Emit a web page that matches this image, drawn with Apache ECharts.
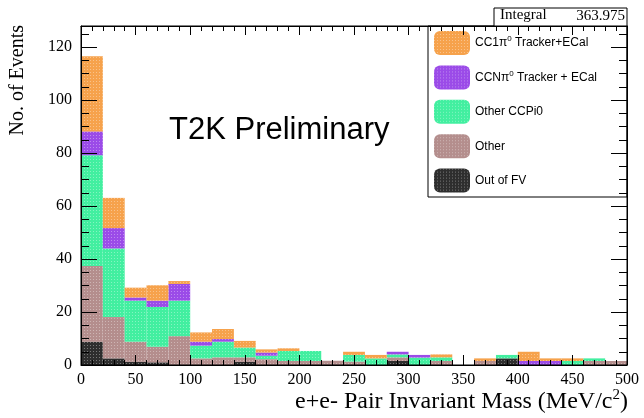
<!DOCTYPE html>
<html>
<head>
<meta charset="utf-8">
<script src="https://cdn.jsdelivr.net/npm/echarts@6/dist/echarts.min.js"></script>
<style>
  html, body { margin: 0; padding: 0; background: #fff; }
  #chart { width: 644px; height: 418px; }
</style>
</head>
<body>
<div id="chart"></div>
<script>
// 25 bins of 20 MeV/c^2, 0..500
const binEdges = [0, 20, 40, 60, 80, 100, 120, 140, 160, 180, 200, 220, 240, 260, 280, 300, 320, 340, 360, 380, 400, 420, 440, 460, 480];

// stacked from bottom to top
const outOfFV   = [8.8, 2.5, 1.2, 1.0, 0, 0, 0, 1.2, 0, 0, 0, 0, 0, 0, 1.5, 0, 0, 0, 0, 2.5, 0, 0, 0, 0, 0];
const other     = [28.6, 15.6, 7.6, 5.9, 10.9, 2.5, 2.9, 1.7, 2.2, 1.5, 1.5, 1.6, 1.3, 0, 1.4, 0, 1.5, 0, 1.5, 0, 0, 0, 0, 1.5, 1.5];
const otherCCPi0 = [41.8, 25.9, 15.5, 15.0, 13.4, 4.8, 5.9, 3.7, 1.3, 3.8, 3.8, 0, 2.5, 2.5, 1.1, 2.8, 1.4, 0, 0, 1.3, 0, 0, 1.5, 1.0, 0];
const ccNPi0    = [9.0, 7.7, 1.2, 2.4, 6.3, 1.5, 1.0, 0, 1.2, 0, 0, 0, 0, 0, 1.0, 1.0, 0, 0, 0, 0, 1.5, 1.5, 0, 0, 0];
const cc1Pi0    = [28.4, 11.4, 3.7, 5.8, 1.1, 3.5, 3.8, 2.5, 1.2, 1.0, 0, 0, 1.2, 1.3, 0, 0, 1.1, 0, 1.0, 0, 3.5, 1.0, 1.0, 0, 0];

const legendOrder = ['CC1π0 Tracker+ECal', 'CCNπ0 Tracker + ECal', 'Other CCPi0', 'Other', 'Out of FV'];
const integralText = '363.975';

const serif = '"Liberation Serif", "DejaVu Serif", serif';
const sans = '"Liberation Sans", Arial, sans-serif';

const decal = {
  symbol: 'rect',
  symbolSize: 1,
  dashArrayX: [1, 2],
  dashArrayY: [1, 2],
  color: 'rgba(255,255,255,0.35)'
};

function bar(name, data, color) {
  return {
    name,
    type: 'bar',
    stack: 'h',
    xAxisIndex: 0,
    yAxisIndex: 0,
    barCategoryGap: '0%',
    barWidth: '100%',
    data,
    itemStyle: { color, decal },
    emphasis: { disabled: true }
  };
}

// ROOT style frame: ticks on all four sides, pointing inward
function frameAxis(position, max, interval, minorSplit, tickLen, minorLen, labels) {
  return {
    type: 'value', position, min: 0, max, interval, z: 10,
    axisLine: { show: true, onZero: false, lineStyle: { color: '#000' } },
    axisTick: { inside: true, length: tickLen, lineStyle: { color: '#000' } },
    minorTick: { show: true, splitNumber: minorSplit, length: minorLen, lineStyle: { color: '#000' } },
    splitLine: { show: false },
    axisLabel: labels
      ? { fontFamily: serif, fontSize: 16, color: '#000', margin: position === 'left' ? 9 : 7, showMaxLabel: position !== 'left' }
      : { show: false }
  };
}

const chart = echarts.init(document.getElementById('chart'));

chart.setOption({
  animation: false,
  grid: { left: 81, right: 17, top: 26, bottom: 53, show: true, borderColor: '#000', borderWidth: 1, z: 10 },
  legend: {
    orient: 'vertical',
    left: 434,
    top: 31,
    padding: 0,
    itemWidth: 36,
    itemHeight: 24,
    itemGap: 10.4,
    data: legendOrder,
    selectedMode: false,
    formatter: (n) => n.replace('π0', 'π{sup|0}'),
    textStyle: {
      fontFamily: sans,
      fontSize: 12,
      color: '#000',
      rich: { sup: { fontFamily: sans, fontSize: 8, verticalAlign: 'top', padding: [0, 0, 8, 0] } }
    }
  },
  xAxis: [
    { type: 'category', data: binEdges, show: false },
    frameAxis('bottom', 500, 50, 5, 10, 5, true),
    frameAxis('top', 500, 50, 5, 9, 5, false)
  ],
  yAxis: [
    frameAxis('left', 128, 20, 4, 16, 8, true),
    frameAxis('right', 128, 20, 4, 16, 8, false)
  ],
  series: [
    bar('Out of FV', outOfFV, '#2e2e2e'),
    bar('Other', other, '#b48e8d'),
    bar('Other CCPi0', otherCCPi0, '#42efa0'),
    bar('CCNπ0 Tracker + ECal', ccNPi0, '#9b4be8'),
    bar('CC1π0 Tracker+ECal', cc1Pi0, '#f6a24c')
  ],
  graphic: [
    { type: 'rect', shape: { x: 428, y: 26, width: 199, height: 171 }, style: { fill: 'none', stroke: '#000', lineWidth: 1 }, z: 20 },
    { type: 'rect', shape: { x: 494, y: 8, width: 133, height: 18 }, style: { fill: '#fff', stroke: '#000', lineWidth: 1 }, z: 20 },
    { type: 'text', left: 500, top: 8, style: { text: 'Integral', font: '15px ' + serif, fill: '#000' }, z: 21 },
    { type: 'text', right: 19, top: 9, style: { text: integralText, font: '15px ' + serif, fill: '#000' }, z: 21 },
    { type: 'text', left: 169, top: 115, style: { text: 'T2K Preliminary', font: '31px ' + sans, fill: '#000' }, z: 21 },
    {
      type: 'text', left: 8, top: 25, rotation: Math.PI / 2, originX: 0, originY: 0,
      style: { text: 'No. of Events', font: '20px ' + serif, fill: '#000', align: 'right', verticalAlign: 'top' }, z: 21
    },
    {
      type: 'text', right: 16, top: 388,
      style: {
        text: 'e+e- Pair Invariant Mass (MeV/c{sup|2})',
        font: '24px ' + serif, fill: '#000',
        rich: { sup: { font: '15px ' + serif, verticalAlign: 'top', padding: [0, 0, 12, 0] } }
      }, z: 21
    }
  ]
});
</script>
</body>
</html>
